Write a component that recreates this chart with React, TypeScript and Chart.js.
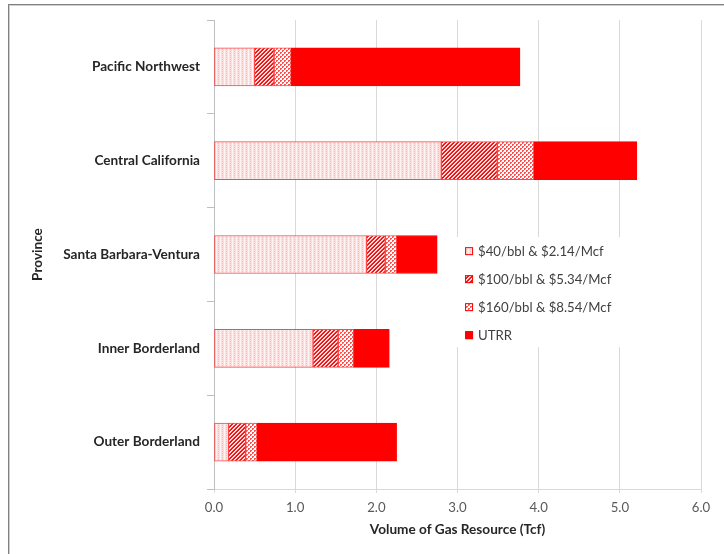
import React, { useEffect, useRef } from "react";
import { Chart, registerables } from "chart.js";

Chart.register(...registerables);

const provinces = [
  "Pacific Northwest",
  "Central California",
  "Santa Barbara-Ventura",
  "Inner Borderland",
  "Outer Borderland",
];
const seriesLabels = [
  "$40/bbl & $2.14/Mcf",
  "$100/bbl & $5.34/Mcf",
  "$160/bbl & $8.54/Mcf",
  "UTRR",
];
const price40 = [0.5, 2.8, 1.88, 1.22, 0.18];
const price100 = [0.24, 0.69, 0.23, 0.31, 0.21];
const price160 = [0.21, 0.45, 0.14, 0.19, 0.14];
const utrr = [2.82, 1.27, 0.5, 0.44, 1.72];
const xTicks = [0, 1, 2, 3, 4, 5, 6];

const FONT = "Lato, 'Liberation Sans', sans-serif";

function makePattern(kind: number): CanvasPattern | string {
  const c = document.createElement("canvas");
  c.width = 4;
  c.height = 4;
  const g = c.getContext("2d")!;
  if (kind === 0) {
    g.fillStyle = "#fcdede";
    g.fillRect(0, 0, 4, 4);
    g.fillStyle = "#fff4f4";
    g.fillRect(0, 0, 1, 4);
    g.fillStyle = "#f7bcbc";
    g.fillRect(2, 1, 1, 1);
    g.fillRect(2, 3, 1, 1);
  } else if (kind === 1) {
    g.fillStyle = "#ffffff";
    g.fillRect(0, 0, 4, 4);
    for (let x = 0; x < 4; x++) {
      for (let y = 0; y < 4; y++) {
        const s = (x + y) % 4;
        if (s === 3 || s === 0) {
          g.fillStyle = "#ff1010";
          g.fillRect(x, y, 1, 1);
        } else if (s === 2) {
          g.fillStyle = "#ffd0d0";
          g.fillRect(x, y, 1, 1);
        }
      }
    }
  } else if (kind === 2) {
    g.fillStyle = "#ffffff";
    g.fillRect(0, 0, 4, 4);
    g.fillStyle = "#ff5050";
    g.fillRect(0, 0, 2, 2);
    g.fillRect(2, 2, 2, 2);
    g.fillStyle = "#ffc8c8";
    g.fillRect(1, 1, 1, 1);
    g.fillRect(3, 3, 1, 1);
  } else {
    return "#ff0000";
  }
  return g.createPattern(c, "repeat")!;
}

const insideLegend = {
  id: "insideLegend",
  afterDraw(chart: any) {
    const { ctx, chartArea } = chart;
    const fills = chart.data.datasets.map((d: any) => d.backgroundColor);
    const bx = chartArea.left + chartArea.width * 0.495;
    const by = chartArea.top + chartArea.height * 0.463;
    ctx.save();
    ctx.fillStyle = "#ffffff";
    ctx.fillRect(bx, by, 185, 110);
    ctx.font = `13.2px ${FONT}`;
    ctx.textBaseline = "middle";
    ctx.textAlign = "left";
    seriesLabels.forEach((lab, i) => {
      const cy = by + 14 + i * 28;
      const sx = bx + 10;
      ctx.fillStyle = fills[i];
      ctx.fillRect(sx, cy - 4, 8, 8);
      ctx.strokeStyle = "#ff0000";
      ctx.lineWidth = 1;
      ctx.strokeRect(sx + 0.5, cy - 3.5, 7, 7);
      ctx.fillStyle = "#404040";
      ctx.fillText(lab, sx + 13, cy + 1);
    });
    ctx.restore();
  },
};

export default function App() {
  const ref = useRef<HTMLCanvasElement>(null);

  useEffect(() => {
    const values = [price40, price100, price160, utrr];
    const chart = new Chart(ref.current!, {
      type: "bar",
      data: {
        labels: provinces,
        datasets: values.map((v, i) => ({
          label: seriesLabels[i],
          data: v,
          backgroundColor: makePattern(i) as any,
          borderColor: i === 3 ? "#ff0000" : "rgba(255,40,40,0.85)",
          borderWidth: 1,
          borderSkipped: false,
          barThickness: 38,
        })),
      },
      options: {
        indexAxis: "y",
        responsive: false,
        animation: false,
        events: [],
        layout: { padding: { left: 0, top: 20, right: 23, bottom: 13 } },
        plugins: {
          legend: { display: false },
          tooltip: { enabled: false },
        },
        scales: {
          x: {
            type: "linear",
            stacked: true,
            min: 0,
            max: 6,
            afterBuildTicks: (s: any) => {
              s.ticks = xTicks.map((v) => ({ value: v }));
            },
            afterFit: (s: any) => {
              s.height = 52;
            },
            grid: {
              color: "#d9d9d9",
              lineWidth: 1,
              tickLength: 4,
              drawTicks: true,
            },
            border: { color: "#d9d9d9", width: 1 },
            ticks: {
              padding: 7,
              color: "#595959",
              font: { family: FONT, size: 13.2 },
              callback: (v: any) => Number(v).toFixed(1),
            },
            title: {
              display: true,
              text: "Volume of Gas Resource (Tcf)",
              color: "#262626",
              font: { family: FONT, size: 13.6, weight: "bold" },
              padding: { top: 4, bottom: 3 },
            },
          },
          y: {
            type: "category",
            stacked: true,
            afterFit: (s: any) => {
              s.width = 214;
            },
            grid: {
              offset: true,
              drawOnChartArea: false,
              drawTicks: true,
              tickLength: 7,
              color: "#bfbfbf",
            },
            border: { color: "#bfbfbf", width: 1 },
            ticks: {
              padding: 7,
              color: "#262626",
              font: { family: FONT, size: 13.6, weight: "bold" },
            },
            title: {
              display: true,
              text: "Province",
              color: "#262626",
              font: { family: FONT, size: 13.6, weight: "bold" },
              padding: { top: 29, bottom: 0 },
            },
          },
        },
      },
      plugins: [insideLegend],
    });
    return () => chart.destroy();
  }, []);

  return (
    <div
      style={{
        position: "fixed",
        left: 0,
        top: 0,
        width: 724,
        height: 554,
        background: "#ffffff",
        overflow: "hidden",
      }}
    >
      <div
        style={{
          position: "absolute",
          left: 8,
          top: 4,
          width: 800,
          height: 700,
          borderLeft: "1px solid #808080",
          borderTop: "1px solid #808080",
          boxShadow: "inset 1px 1px 0 #cfcfcf",
        }}
      />
      <canvas
        ref={ref}
        width={724}
        height={554}
        style={{ position: "absolute", left: 0, top: 0 }}
      />
    </div>
  );
}
